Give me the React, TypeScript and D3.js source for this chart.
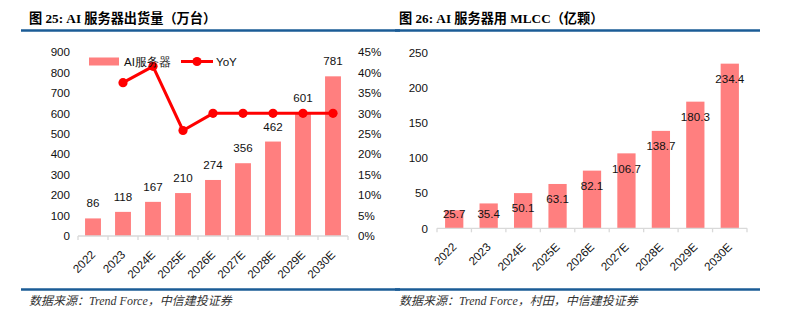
import React from "react";
import * as d3 from "d3";

const categories = ["2022", "2023", "2024E", "2025E", "2026E", "2027E", "2028E", "2029E", "2030E"];
const shipments = [86, 118, 167, 210, 274, 356, 462, 601, 781];
const yoy = [null, 37.5, 41.5, 25.8, 30, 30, 30, 30, 30];
const mlcc = [25.7, 35.4, 50.1, 63.1, 82.1, 106.7, 138.7, 180.3, 234.4];
const leftTicks = [0, 100, 200, 300, 400, 500, 600, 700, 800, 900];
const rightPctTicks = [0, 5, 10, 15, 20, 25, 30, 35, 40, 45];
const mlccTicks = [0, 50, 100, 150, 200, 250];

const BAR = "#FF7F7F";
const RED = "#FF0000";
const BLUE = "#1B5C96";
const AXIS = "#D9D9D9";
const NUM_FONT = "Arial, 'Liberation Sans', sans-serif";
const TITLE_FONT = "'Times New Roman', 'Liberation Serif', 'Noto Sans CJK SC', serif";
const SRC_FONT = "'Times New Roman', 'Liberation Serif', 'Noto Sans CJK SC', serif";
const FS = 11.6;

function XAxis({ x, y0 }: { x: d3.ScaleBand<string>; y0: number }) {
  const [r0, r1] = x.range();
  const step = x.step();
  return (
    <g>
      <line x1={r0} x2={r1} y1={y0} y2={y0} stroke={AXIS} strokeWidth={1.3} />
      {d3.range(categories.length + 1).map((i) => (
        <line key={i} x1={r0 + i * step} x2={r0 + i * step} y1={y0} y2={y0 + 4} stroke={AXIS} strokeWidth={1.3} />
      ))}
      {categories.map((c) => {
        const cx = (x(c) as number) + x.bandwidth() / 2;
        return (
          <text
            key={c}
            transform={`translate(${cx + 3},${y0 + 19.5}) rotate(-45)`}
            textAnchor="end"
            fontSize={FS}
            fontFamily={NUM_FONT}
            fill="#111"
          >
            {c}
          </text>
        );
      })}
    </g>
  );
}

function LeftChart() {
  const x = d3.scaleBand<string>().domain(categories).range([78, 348]).padding(0);
  const y = d3.scaleLinear().domain([0, 900]).range([236, 52]);
  const yr = d3.scaleLinear().domain([0, 45]).range([236, 52]);
  const bw = x.bandwidth() * 0.53;
  const cx = (c: string) => (x(c) as number) + x.bandwidth() / 2;
  const pts = categories
    .map((c, i) => ({ c, v: yoy[i] }))
    .filter((d) => d.v !== null) as { c: string; v: number }[];
  const line = d3
    .line<{ c: string; v: number }>()
    .x((d) => cx(d.c))
    .y((d) => yr(d.v));
  return (
    <g>
      <text x={29} y={22.5} fontSize={13.2} fontWeight="bold" fontFamily={TITLE_FONT} fill="#000">
        图 25: AI 服务器出货量（万台）
      </text>
      <line x1={21} x2={400} y1={30.5} y2={30.5} stroke={BLUE} strokeWidth={2.5} />
      {leftTicks.map((t) => (
        <text key={t} x={70} y={y(t) + 4.2} textAnchor="end" fontSize={FS} fontFamily={NUM_FONT} fill="#111">
          {t}
        </text>
      ))}
      {rightPctTicks.map((t) => (
        <text key={t} x={358} y={yr(t) + 4.2} textAnchor="start" fontSize={FS} fontFamily={NUM_FONT} fill="#111">
          {t}%
        </text>
      ))}
      {categories.map((c, i) => (
        <rect key={c} x={cx(c) - bw / 2} y={y(shipments[i])} width={bw} height={y(0) - y(shipments[i])} fill={BAR} />
      ))}
      <XAxis x={x} y0={236} />
      {categories.map((c, i) => (
        <text key={c} x={cx(c)} y={y(shipments[i]) - 11} textAnchor="middle" fontSize={FS} fontFamily={NUM_FONT} fill="#111">
          {shipments[i]}
        </text>
      ))}
      <path d={line(pts) || ""} fill="none" stroke={RED} strokeWidth={3} strokeLinejoin="round" />
      {pts.map((d) => (
        <circle key={d.c} cx={cx(d.c)} cy={yr(d.v)} r={4.6} fill={RED} />
      ))}
      <g>
        <rect x={89} y={57.5} width={30} height={8} fill={BAR} />
        <text x={124} y={66} fontSize={FS} fontFamily={NUM_FONT} fill="#111">
          AI服务器
        </text>
        <line x1={181} x2={213} y1={61.5} y2={61.5} stroke={RED} strokeWidth={3} />
        <circle cx={197} cy={61.5} r={4.6} fill={RED} />
        <text x={216} y={66} fontSize={FS} fontFamily={NUM_FONT} fill="#111">
          YoY
        </text>
      </g>
      <line x1={21} x2={400} y1={289.5} y2={289.5} stroke={BLUE} strokeWidth={2.3} />
      <text x={29} y={305} fontSize={12} fontStyle="italic" fontFamily={SRC_FONT} fill="#333">
        数据来源：Trend Force，中信建投证券
      </text>
    </g>
  );
}

function RightChart() {
  const x = d3.scaleBand<string>().domain(categories).range([437, 747]).padding(0);
  const y = d3.scaleLinear().domain([0, 250]).range([228.3, 52.7]);
  const bw = x.bandwidth() * 0.53;
  const cx = (c: string) => (x(c) as number) + x.bandwidth() / 2;
  return (
    <g>
      <text x={399} y={22.5} fontSize={13.2} fontWeight="bold" fontFamily={TITLE_FONT} fill="#000">
        图 26: AI 服务器用 MLCC（亿颗）
      </text>
      <line x1={395} x2={760} y1={30.5} y2={30.5} stroke={BLUE} strokeWidth={2.5} />
      {mlccTicks.map((t) => (
        <text key={t} x={428} y={y(t) + 4.2} textAnchor="end" fontSize={FS} fontFamily={NUM_FONT} fill="#111">
          {t}
        </text>
      ))}
      {categories.map((c, i) => (
        <rect key={c} x={cx(c) - bw / 2} y={y(mlcc[i])} width={bw} height={y(0) - y(mlcc[i])} fill={BAR} />
      ))}
      <XAxis x={x} y0={228.3} />
      {categories.map((c, i) => {
        const cy = Math.min(y(mlcc[i]) + 15, y(0) - 15);
        return (
          <text key={c} x={cx(c)} y={cy + 4.2} textAnchor="middle" fontSize={FS} fontFamily={NUM_FONT} fill="#111">
            {mlcc[i].toFixed(1)}
          </text>
        );
      })}
      <line x1={395} x2={760} y1={289.5} y2={289.5} stroke={BLUE} strokeWidth={2.3} />
      <text x={399} y={305} fontSize={12} fontStyle="italic" fontFamily={SRC_FONT} fill="#333">
        数据来源：Trend Force，村田，中信建投证券
      </text>
    </g>
  );
}

export default function App() {
  return (
    <svg
      width={794}
      height={321}
      viewBox="0 0 794 321"
      style={{ position: "fixed", left: 0, top: 0, background: "#fff" }}
    >
      <rect x={0} y={0} width={794} height={321} fill="#fff" />
      <LeftChart />
      <RightChart />
    </svg>
  );
}
